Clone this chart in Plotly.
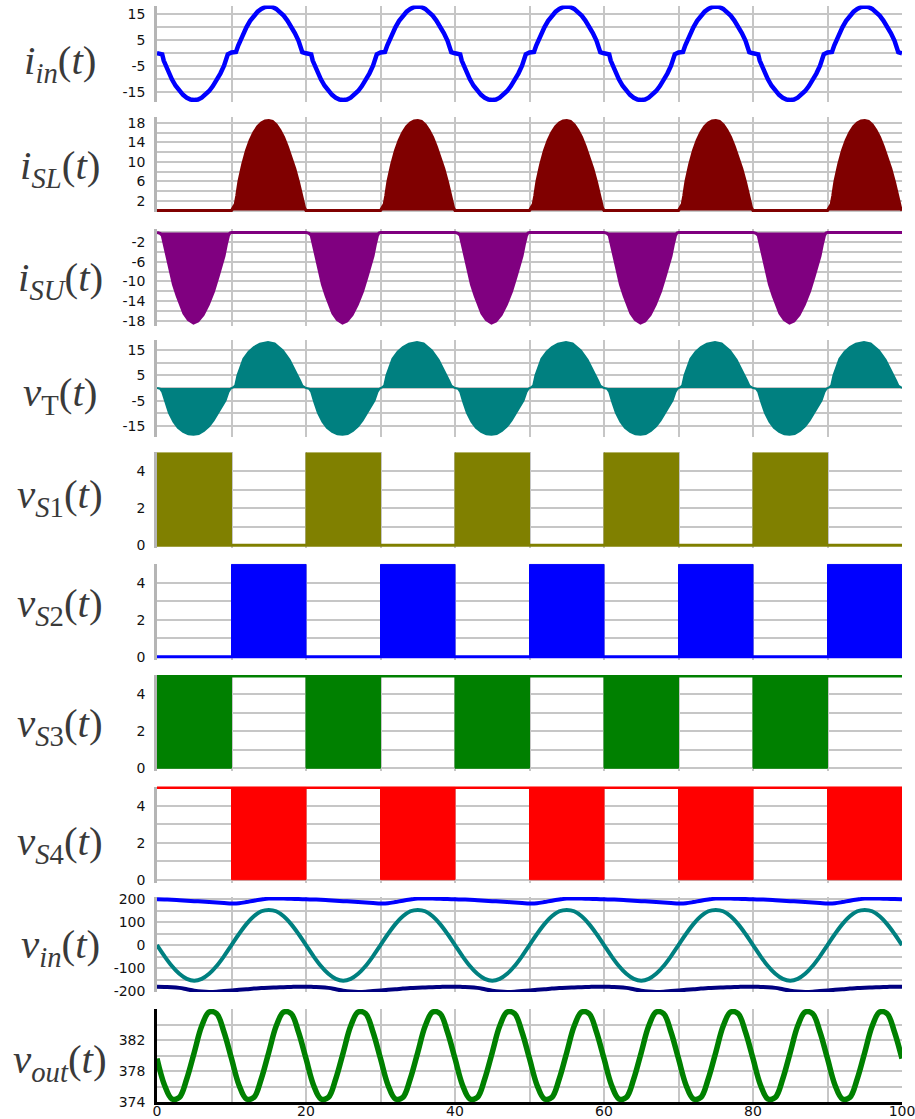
import plotly.graph_objects as go
from plotly.subplots import make_subplots

# ---------------- data (time in ms) ----------------
T_END = 100
LINE_PERIOD = 20          # mains period of the input quantities
VOUT_PERIOD = 10          # output ripple period

# input current, one mains period (with crossover dead zone)
IIN_T = [0, 0.7, 0.9, 1.2, 1.6, 2.0, 2.5, 3.0, 3.5, 4.0, 4.5, 5.0, 5.5, 6.0, 6.5,
         7.0, 7.5, 8.0, 8.5, 9.0, 9.3, 9.5, 10.0, 10.6, 10.9, 11.2, 11.6, 12.0,
         12.5, 13.0, 13.5, 14.0, 14.5, 15.0, 15.5, 16.0, 16.5, 17.0, 17.5, 18.0,
         18.5, 19.0, 19.3, 19.5, 20.0]
IIN_V = [0, -0.4, -2.8, -5.0, -7.8, -10.0, -12.5, -14.5, -16.0, -17.1, -17.8, -18.0,
         -17.8, -17.1, -16.0, -14.5, -12.6, -10.4, -7.8, -4.8, -2.0, -0.4, 0.3, 0.5,
         3.0, 5.2, 7.8, 10.0, 12.5, 14.5, 16.0, 17.1, 17.8, 18.0, 17.8, 17.1, 16.0,
         14.5, 12.6, 10.4, 7.8, 4.8, 2.0, 0.4, 0]

# lower switch current envelope, one period
ISL_T = [0, 10.0, 10.3, 10.5, 10.7, 11.0, 11.5, 12.0, 12.5, 13.0, 13.5, 14.0, 14.5,
         15.0, 15.5, 16.0, 16.5, 17.0, 17.5, 18.0, 18.5, 19.0, 19.3, 19.6, 19.8, 20.0]
ISL_V = [0, 0, 0.8, 1.3, 3.0, 6.0, 9.5, 12.3, 14.4, 16.0, 17.2, 18.0, 18.4, 18.5,
         18.3, 17.6, 16.5, 15.0, 13.1, 11.0, 8.6, 5.8, 3.8, 1.6, 0.6, 0]

# upper switch current envelope, one period
ISU_T = [0, 0.4, 0.7, 1.1, 1.5, 1.8, 2.2, 2.7, 3.2, 3.6, 4.2, 4.9, 5.5, 6.2, 6.9,
         7.6, 8.2, 8.7, 9.0, 9.3, 9.6, 9.8, 10.0, 20.0]
ISU_V = [0, -0.2, -0.6, -3.2, -5.8, -8.0, -10.6, -12.9, -15.0, -16.5, -17.8, -18.5,
         -18.1, -16.8, -14.7, -12.0, -9.0, -6.6, -4.8, -2.5, -0.6, -0.1, 0, 0]

# transformer voltage envelope, one period
VT_T = [0, 0.4, 0.7, 1.1, 1.6, 2.2, 2.8, 3.5, 4.2, 4.9, 5.6, 6.3, 7.0, 7.6, 8.3,
        8.8, 9.2, 9.6, 9.9, 10.2, 10.5, 10.8, 11.2, 11.6, 12.3, 13.0, 13.8, 14.9,
        15.8, 16.9, 17.8, 18.7, 19.2, 19.5, 19.8, 20.0]
VT_V = [0, -0.3, -1.6, -5.5, -9.8, -13.4, -15.8, -17.4, -18.3, -18.5, -18.2, -17.0,
        -15.2, -12.8, -9.6, -6.9, -5.0, -1.6, -0.2, 0.2, 1.0, 5.0, 8.6, 11.6, 14.4,
        16.2, 17.5, 18.2, 17.6, 14.9, 11.2, 6.3, 3.0, 1.0, 0.2, 0]

# gate signals: start of each 10 ms conduction interval
GATE_ON_S1 = [0, 20, 40, 60, 80]
GATE_ON_S2 = [10, 30, 50, 70, 90]
GATE_ON_S3 = [0, 20, 40, 60, 80]
GATE_ON_S4 = [10, 30, 50, 70, 90]
GATE_ON_LEN = 10
GATE_HIGH = 5
GATE_IDLE = {"S1": 0, "S2": 0, "S3": 5, "S4": 5}

# input voltage and its upper / lower bounds, one period (1 ms steps)
VIN_T = list(range(0, 21))
VIN_V = [0, -48, -91, -125, -147, -155, -147, -125, -91, -48, 0, 48, 91, 125, 147,
         153, 147, 125, 91, 48, 0]
VIN_UPPER = [199, 198, 197, 195, 193, 191, 189, 187, 185, 183, 181, 182, 187, 193,
             198, 202, 203, 202, 201, 200, 199]
VIN_LOWER = [-181, -182, -183, -186, -192, -198, -202, -204, -203, -200, -197, -194,
             -192, -189, -187, -185, -184, -183, -182, -181, -181]

# output voltage, one ripple period (1 ms steps)
VOUT_T = list(range(0, 11))
VOUT_V = [379.6, 376.2, 374.4, 374.6, 377.0, 380.4, 383.8, 385.6, 385.4, 383.0, 379.6]

# labelled ticks and extra grid lines on the time axis
X_TICKS = [0, 20, 40, 60, 80, 100]
X_GRID = [10, 30, 50, 70, 90]

LABELS = [
    "<i>i</i><sub><i>in</i></sub>(<i>t</i>)",
    "<i>i</i><sub><i>SL</i></sub>(<i>t</i>)",
    "<i>i</i><sub><i>SU</i></sub>(<i>t</i>)",
    "<i>v</i><sub>T</sub>(<i>t</i>)",
    "<i>v</i><sub><i>S</i>1</sub>(<i>t</i>)",
    "<i>v</i><sub><i>S</i>2</sub>(<i>t</i>)",
    "<i>v</i><sub><i>S</i>3</sub>(<i>t</i>)",
    "<i>v</i><sub><i>S</i>4</sub>(<i>t</i>)",
    "<i>v</i><sub><i>in</i></sub>(<i>t</i>)",
    "<i>v</i><sub><i>out</i></sub>(<i>t</i>)",
]


def periodic(t, v, period):
    """Repeat one recorded period over the full time window."""
    xs, ys = [], []
    count = int(round(T_END / period))
    for k in range(count):
        for i, (a, b) in enumerate(zip(t, v)):
            if k > 0 and i == 0:
                continue
            xs.append(a + k * period)
            ys.append(b)
    return xs, ys


def gate_blocks(starts):
    xs, ys = [], []
    for s in starts:
        xs += [s, s, s + GATE_ON_LEN, s + GATE_ON_LEN, s, None]
        ys += [0, GATE_HIGH, GATE_HIGH, 0, 0, None]
    return xs, ys


# ---------------- layout geometry (pixels) ----------------
W, H = 915, 1119
M_L, M_R, M_T, M_B = 157, 13, 0, 17
PLOT_H = H - M_T - M_B

# (top px, bottom px) of each panel
PANELS = [(5.5, 101.9), (117, 212), (229, 326), (340, 437), (452, 548),
          (563.5, 659.5), (675, 771), (786.5, 882.5), (897, 992), (1009, 1102)]
LABEL_Y = [63, 168, 280, 395, 497, 606, 726, 844, 947, 1062]

fig = make_subplots(rows=10, cols=1, shared_xaxes=False)

# 1) input current
x, y = periodic(IIN_T, IIN_V, LINE_PERIOD)
fig.add_trace(go.Scatter(x=x, y=y, mode="lines", line=dict(color="#0000ff", width=4.5)), 1, 1)

# 2) lower switch current
x, y = periodic(ISL_T, ISL_V, LINE_PERIOD)
fig.add_trace(go.Scatter(x=x, y=y, mode="lines", fill="tozeroy", fillcolor="#800000",
                         line=dict(color="#800000", width=3)), 2, 1)

# 3) upper switch current
x, y = periodic(ISU_T, ISU_V, LINE_PERIOD)
fig.add_trace(go.Scatter(x=x, y=y, mode="lines", fill="tozeroy", fillcolor="#800080",
                         line=dict(color="#800080", width=3)), 3, 1)

# 4) transformer voltage
x, y = periodic(VT_T, VT_V, LINE_PERIOD)
fig.add_trace(go.Scatter(x=x, y=y, mode="lines", fill="tozeroy", fillcolor="#008080",
                         line=dict(color="#008080", width=2)), 4, 1)

# 5-8) gate voltages
gates = [("S1", GATE_ON_S1, "#808000"), ("S2", GATE_ON_S2, "#0000ff"),
         ("S3", GATE_ON_S3, "#008000"), ("S4", GATE_ON_S4, "#ff0000")]
for i, (name, starts, col) in enumerate(gates):
    row = 5 + i
    idle = GATE_IDLE[name]
    fig.add_trace(go.Scatter(x=[0, T_END], y=[idle, idle], mode="lines",
                             line=dict(color=col, width=3)), row, 1)
    gx, gy = gate_blocks(starts)
    fig.add_trace(go.Scatter(x=gx, y=gy, mode="lines", fill="toself", fillcolor=col,
                             line=dict(color=col, width=1)), row, 1)

# 9) input voltage with bounds
x, y = periodic(VIN_T, VIN_UPPER, LINE_PERIOD)
fig.add_trace(go.Scatter(x=x, y=y, mode="lines", line=dict(color="#0000ff", width=4, shape="spline")), 9, 1)
x, y = periodic(VIN_T, VIN_V, LINE_PERIOD)
fig.add_trace(go.Scatter(x=x, y=y, mode="lines", line=dict(color="#008080", width=4, shape="spline")), 9, 1)
x, y = periodic(VIN_T, VIN_LOWER, LINE_PERIOD)
fig.add_trace(go.Scatter(x=x, y=y, mode="lines", line=dict(color="#000080", width=4, shape="spline")), 9, 1)

# 10) output voltage
x, y = periodic(VOUT_T, VOUT_V, VOUT_PERIOD)
fig.add_trace(go.Scatter(x=x, y=y, mode="lines", line=dict(color="#008000", width=5.5, shape="spline")), 10, 1)

# ---------------- axes ----------------
# (range, labelled ticks, unlabelled grid lines)
Y_AXES = [
    ([-18.7, 18.4], [-15, -5, 5, 15], [-10, 0, 10]),
    ([-0.3, 19.2], [2, 6, 10, 14, 18], [0, 4, 8, 12, 16]),
    ([-19.1, 0.7], [-2, -6, -10, -14, -18], [0, -4, -8, -12, -16]),
    ([-19.4, 19.0], [-15, -5, 5, 15], [-10, 0, 10]),
    ([-0.15, 5.05], [0, 2, 4], [1, 3, 5]),
    ([-0.15, 5.05], [0, 2, 4], [1, 3, 5]),
    ([-0.15, 5.05], [0, 2, 4], [1, 3, 5]),
    ([-0.15, 5.05], [0, 2, 4], [1, 3, 5]),
    ([-204, 209], [-200, -100, 0, 100, 200], [-150, -50, 50, 150]),
    ([374, 386], [374, 378, 382], [376, 380, 384]),
]

GRID = "#c6c6c6"
TICK_FONT = dict(family="DejaVu Sans", size=14, color="#111111")

layout = dict(
    width=W, height=H,
    margin=dict(l=M_L, r=M_R, t=M_T, b=M_B, autoexpand=False),
    paper_bgcolor="white", plot_bgcolor="white",
    showlegend=False,
    annotations=[],
)

for i in range(10):
    top, bot = PANELS[i]
    dom = [(PLOT_H - bot) / PLOT_H, (PLOT_H - top) / PLOT_H]
    last = i == 9
    rng, major, minor = Y_AXES[i]
    yk = "yaxis" if i == 0 else f"yaxis{i + 1}"
    xk = "xaxis" if i == 0 else f"xaxis{i + 1}"
    layout[yk] = dict(
        domain=dom, range=rng, tickmode="array", tickvals=major,
        ticktext=[str(v) for v in major],
        showgrid=True, gridcolor=GRID, gridwidth=2, zeroline=False,
        minor=dict(tickvals=minor, showgrid=True, gridcolor=GRID, gridwidth=2, ticks=""),
        showline=True, linecolor="#000000" if last else "#b5b5b5", linewidth=2.5,
        ticks="", ticklabelstandoff=6, tickfont=TICK_FONT, automargin=False,
    )
    xaxis = dict(
        range=[0, T_END], tickmode="array", tickvals=X_TICKS,
        minor=dict(tickvals=X_GRID, showgrid=True, gridcolor=GRID, gridwidth=2, ticks=""),
        showgrid=True, gridcolor=GRID, gridwidth=2,
        zeroline=False, showline=last, linecolor="#000000", linewidth=2.5,
        ticks="", automargin=False,
        anchor="y" if i == 0 else f"y{i + 1}",
    )
    if last:
        xaxis.update(showticklabels=True, ticktext=[str(v) for v in X_TICKS],
                     tickfont=TICK_FONT, ticklabelstandoff=-6,
                     ticklabeloverflow="allow")
    else:
        xaxis.update(showticklabels=False)
    layout[xk] = xaxis
    layout["annotations"].append(dict(
        text=LABELS[i], xref="paper", yref="paper",
        x=(60 - M_L) / (W - M_L - M_R), y=(PLOT_H - LABEL_Y[i]) / PLOT_H,
        xanchor="center", yanchor="middle", showarrow=False,
        font=dict(family="Liberation Serif", size=41, color="#3a3a3a"),
    ))

fig.update_layout(**layout)
fig.write_html("out.html")
